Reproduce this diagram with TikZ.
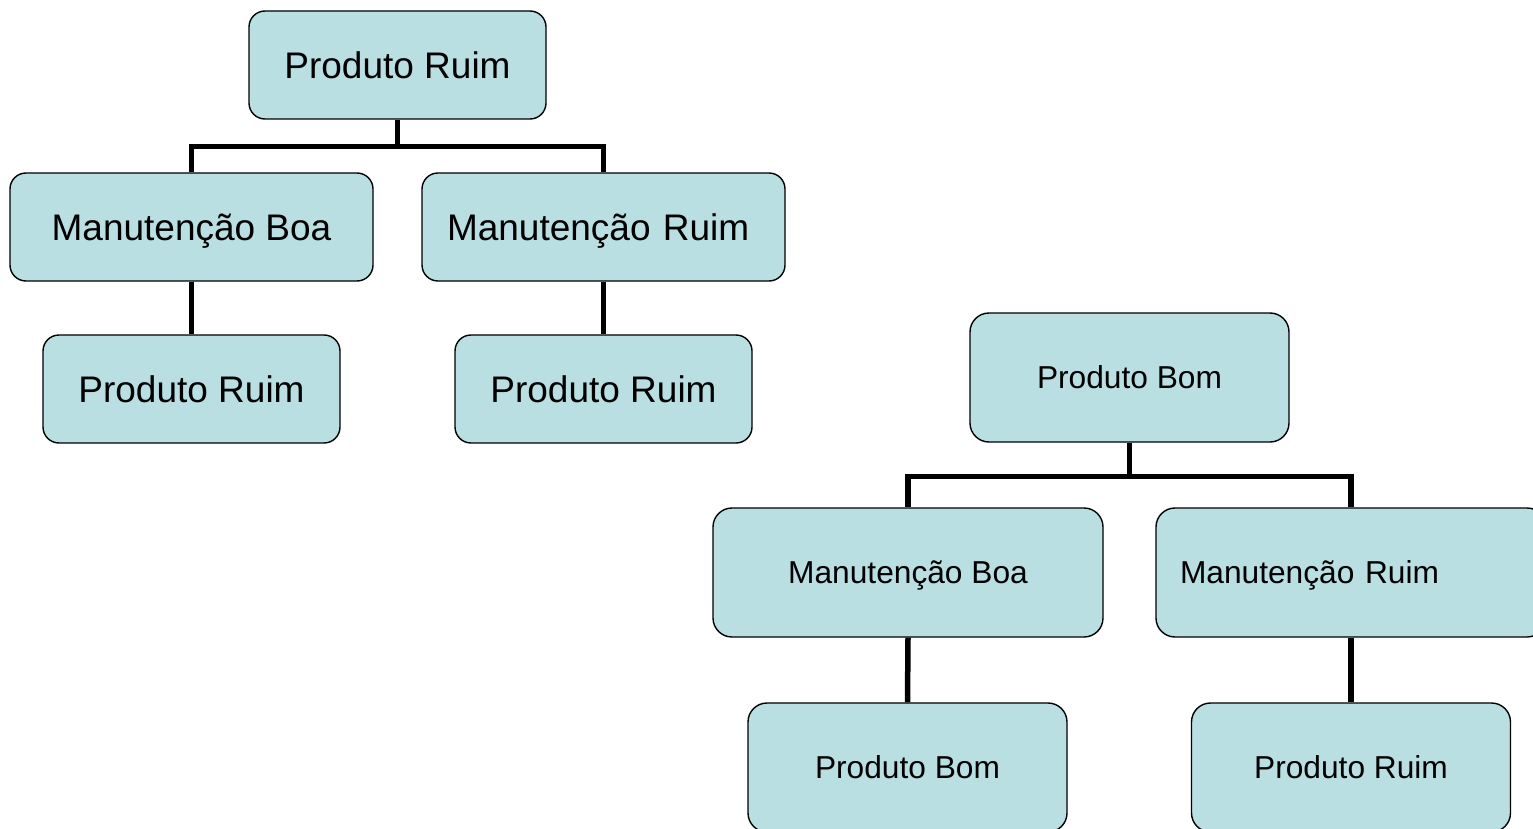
\documentclass[tikz,border=0pt]{standalone}
\usepackage{fontspec}
\setmainfont{Liberation Sans}
\definecolor{boxfill}{HTML}{B9DFE3}
\tikzset{
  box/.style={draw=black, line width=1.4pt, fill=boxfill, rounded corners=16pt, inner sep=0pt, text depth=0pt},
  bigbox/.style={box, minimum width=297pt, minimum height=108pt, font=\fontsize{37}{44}\selectfont},
  widebox/.style={box, minimum width=363pt, minimum height=108pt, font=\fontsize{37}{44}\selectfont},
  smallbox/.style={box, rounded corners=19pt, minimum width=319pt, minimum height=129pt, font=\fontsize{31.7}{38}\selectfont},
  midbox/.style={box, rounded corners=19pt, minimum width=390pt, minimum height=129pt, font=\fontsize{31.7}{38}\selectfont},
  conn/.style={line width=5.5pt, black},
}
\begin{document}
\begin{tikzpicture}[x=1pt,y=1pt]
\useasboundingbox (0,0) rectangle (1533,-829);
% tree 1
\node[bigbox] (r1) at (397.5,-65) {Produto Ruim};
\node[widebox] (m1a) at (191.5,-227) {Manutenção Boa};
\node[widebox, text width=313pt, inner xsep=25pt, align=left] (m1b) at (603.5,-227) {Manutenção Ruim};
\node[bigbox] (p1a) at (191.5,-389) {Produto Ruim};
\node[bigbox] (p1b) at (603.5,-389) {Produto Ruim};
\draw[conn] (r1.south) -- ++(0,-27) -| (m1a.north);
\draw[conn] (r1.south) -- ++(0,-27) -| (m1b.north);
\draw[conn] (m1a.south) -- (p1a.north);
\draw[conn] (m1b.south) -- (p1b.north);
% tree 2
\node[smallbox] (r2) at (1129.5,-377.5) {Produto Bom};
\node[midbox] (m2a) at (908,-572.5) {Manutenção Boa};
\node[midbox, text width=342pt, inner xsep=24pt, align=left] (m2b) at (1351,-572.5) {Manutenção Ruim};
\node[smallbox] (p2a) at (907.5,-767.5) {Produto Bom};
\node[smallbox] (p2b) at (1351,-767.5) {Produto Ruim};
\draw[conn] (r2.south) -- ++(0,-34) -| (m2a.north);
\draw[conn] (r2.south) -- ++(0,-34) -| (m2b.north);
\draw[conn] (m2a.south) -- (p2a.north);
\draw[conn] (m2b.south) -- (p2b.north);
\end{tikzpicture}
\end{document}
